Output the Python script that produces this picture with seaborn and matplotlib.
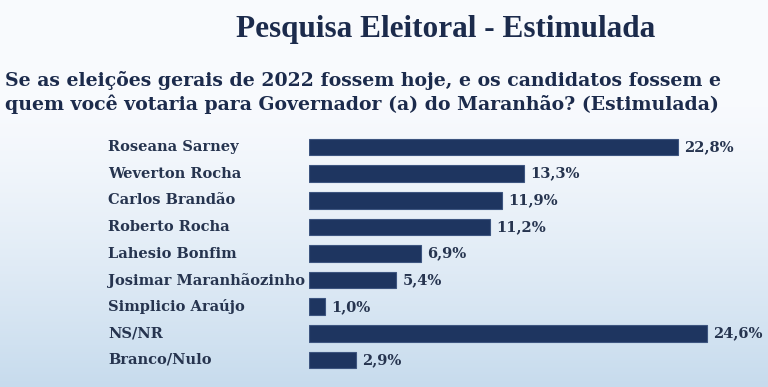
import numpy as np
import pandas as pd
import matplotlib
matplotlib.use("Agg")
import matplotlib.pyplot as plt
import matplotlib.transforms as mtransforms
import seaborn as sns

candidatos = ["Roseana Sarney", "Weverton Rocha", "Carlos Brandão", "Roberto Rocha",
              "Lahesio Bonfim", "Josimar Maranhãozinho", "Simplicio Araújo",
              "NS/NR", "Branco/Nulo"]
percentuais = [22.8, 13.3, 11.9, 11.2, 6.9, 5.4, 1.0, 24.6, 2.9]

titulo = "Pesquisa Eleitoral - Estimulada"
pergunta = ["Se as eleições gerais de 2022 fossem hoje, e os candidatos fossem e",
            "quem você votaria para Governador (a) do Maranhão? (Estimulada)"]

df = pd.DataFrame({"candidato": candidatos, "pct": percentuais})

sns.set_style("white")
NAVY = "#1e3560"
TXT = "#26344f"

fig = plt.figure(figsize=(7.68, 3.87), dpi=100)

# fundo em degradê
bg = fig.add_axes([0, 0, 1, 1], zorder=0)
grad = np.linspace(0, 1, 256).reshape(-1, 1)
top = np.array([0.975, 0.982, 0.995])
bot = np.array([0.78, 0.86, 0.93])
w = np.clip((grad - 0.25) / 0.75, 0, 1) ** 1.3
img = top + (bot - top) * w[..., None]
bg.imshow(img, aspect="auto", extent=[0, 1, 0, 1])
bg.axis("off")

ax = fig.add_axes([309 / 768, 1 - 373.3 / 387, (768 - 309) / 768, 239.6 / 387], zorder=1)
ax.patch.set_alpha(0)
sns.barplot(data=df, x="pct", y="candidato", color=NAVY, width=0.62,
            saturation=1, ax=ax, orient="h", edgecolor="#3d5580", linewidth=0.8)
ax.set_xlim(0, (768 - 309) / ((707 - 309) / 24.6))
ax.set_ylim(8.5, -0.5)
ax.set_xlabel("")
ax.set_ylabel("")
ax.set_xticks([])
ax.set_yticks([])
for s in ax.spines.values():
    s.set_visible(False)

for i, v in enumerate(percentuais):
    ax.text(v + 0.4, i, f"{v:.1f}%".replace(".", ","), va="center", ha="left",
            fontsize=10.5, fontweight="bold", family="DejaVu Serif", color=TXT)

trans = mtransforms.blended_transform_factory(fig.transFigure, ax.transData)
for i, c in enumerate(candidatos):
    ax.text(108 / 768, i, c, transform=trans, va="center", ha="left",
            fontsize=10.5, fontweight="bold", family="DejaVu Serif", color=TXT,
            clip_on=False)

fig.text(446 / 768, 1 - 30 / 387, titulo, ha="center", va="center",
         fontsize=22.5, fontweight="bold", family="Liberation Serif", color="#1c2b4c")
fig.text(5 / 768, 1 - 80 / 387, pergunta[0], ha="left", va="center",
         fontsize=13.6, fontweight="bold", family="DejaVu Serif", color="#1c2b4c")
fig.text(5 / 768, 1 - 104 / 387, pergunta[1], ha="left", va="center",
         fontsize=13.6, fontweight="bold", family="DejaVu Serif", color="#1c2b4c")

fig.savefig("out.png", dpi=100)
